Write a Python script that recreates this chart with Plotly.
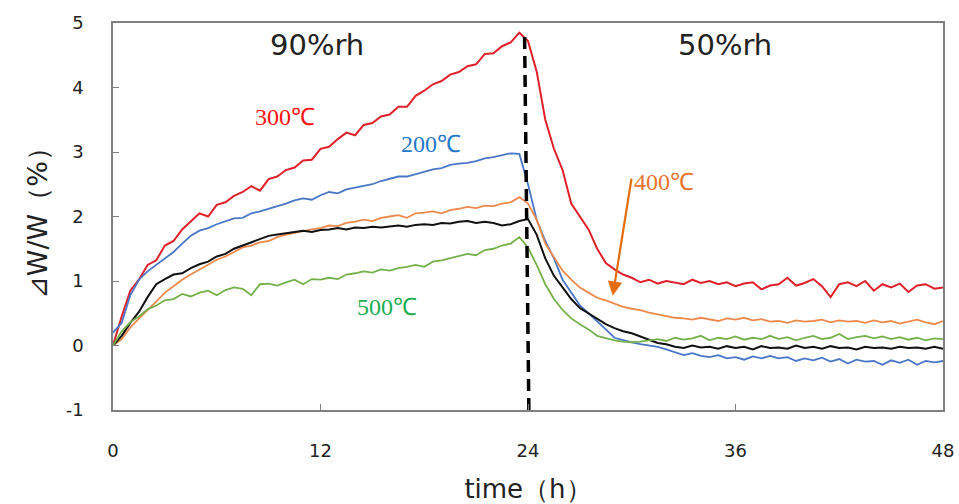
import plotly.graph_objects as go

# time axis (h), every 0.5 h from 0 to 48
time_h = [i * 0.5 for i in range(97)]

dw_300 = [0.0, 0.45, 0.85, 1.02, 1.25, 1.32, 1.55, 1.62, 1.8, 1.92,
          2.05, 2.0, 2.18, 2.22, 2.32, 2.38, 2.47, 2.4, 2.58, 2.62,
          2.72, 2.76, 2.87, 2.88, 3.05, 3.08, 3.2, 3.3, 3.26, 3.42,
          3.45, 3.55, 3.58, 3.7, 3.7, 3.87, 3.95, 4.05, 4.1, 4.2,
          4.24, 4.33, 4.36, 4.52, 4.53, 4.64, 4.7, 4.85, 4.72, 4.25,
          3.5, 3.05, 2.72, 2.2, 2.0, 1.8, 1.5, 1.28, 1.18, 1.1,
          1.05, 0.98, 1.02, 0.96, 1.0, 0.98, 0.95, 1.02, 0.97, 1.0,
          0.95, 0.98, 0.92, 0.96, 0.98, 0.87, 0.93, 0.95, 1.05, 0.93,
          0.97, 1.03, 0.92, 0.75, 0.95, 0.98, 0.92, 1.0, 0.85, 0.95,
          0.9, 0.96, 0.83, 0.93, 0.95, 0.88, 0.9]

dw_200 = [0.2, 0.35, 0.78, 1.02, 1.15, 1.25, 1.35, 1.45, 1.58, 1.7,
          1.78, 1.82, 1.88, 1.92, 1.97, 1.98, 2.05, 2.08, 2.12, 2.15,
          2.2, 2.25, 2.28, 2.26, 2.33, 2.38, 2.36, 2.42, 2.45, 2.48,
          2.5, 2.55, 2.58, 2.62, 2.62, 2.66, 2.7, 2.73, 2.75, 2.8,
          2.82, 2.83, 2.86, 2.9, 2.92, 2.95, 2.98, 2.97, 2.5, 1.95,
          1.62, 1.35, 1.02, 0.82, 0.62, 0.5, 0.38, 0.25, 0.12, 0.08,
          0.05, 0.02, 0.0, -0.02, -0.06, -0.1, -0.15, -0.12, -0.16, -0.18,
          -0.15, -0.2, -0.18, -0.22, -0.17, -0.2, -0.16, -0.2, -0.18, -0.24,
          -0.2, -0.23, -0.19, -0.25, -0.21, -0.28, -0.22, -0.25, -0.24, -0.3,
          -0.23, -0.27, -0.22, -0.3, -0.24, -0.26, -0.24]

dw_400 = [0.0, 0.1, 0.28, 0.42, 0.55, 0.68, 0.82, 0.92, 1.02, 1.1,
          1.18, 1.25, 1.33, 1.38, 1.45, 1.52, 1.55, 1.6, 1.62, 1.68,
          1.72, 1.75, 1.78, 1.8, 1.82, 1.86, 1.85, 1.9, 1.92, 1.95,
          1.93, 1.98, 2.0, 2.02, 1.98, 2.05, 2.06, 2.08, 2.05, 2.1,
          2.12, 2.15, 2.13, 2.17, 2.16, 2.2, 2.22, 2.3, 2.2, 1.95,
          1.58, 1.38, 1.16, 1.02, 0.9, 0.82, 0.74, 0.7, 0.65, 0.6,
          0.57, 0.55, 0.51, 0.48, 0.46, 0.43, 0.42, 0.4, 0.43, 0.41,
          0.38, 0.42, 0.4, 0.43, 0.39, 0.41, 0.37, 0.38, 0.35, 0.39,
          0.37, 0.38, 0.4, 0.36, 0.39, 0.37, 0.38, 0.35, 0.39, 0.36,
          0.38, 0.34, 0.37, 0.4, 0.36, 0.33, 0.38]

dw_black = [0.0, 0.15, 0.35, 0.52, 0.75, 0.95, 1.03, 1.1, 1.12, 1.2,
            1.26, 1.3, 1.38, 1.42, 1.5, 1.55, 1.6, 1.65, 1.7, 1.72,
            1.74, 1.75, 1.78, 1.76, 1.79, 1.8, 1.82, 1.8, 1.83, 1.82,
            1.84, 1.83, 1.85, 1.86, 1.84, 1.87, 1.88, 1.87, 1.9, 1.89,
            1.92, 1.93, 1.9, 1.92, 1.9, 1.86, 1.88, 1.93, 1.96, 1.72,
            1.35, 1.08, 0.9, 0.72, 0.58, 0.5, 0.41, 0.33, 0.27, 0.22,
            0.19, 0.14, 0.08, 0.04, 0.02, -0.02, -0.04, 0.0, -0.03, -0.02,
            -0.05, -0.01, -0.04, -0.02, -0.06, -0.01, -0.04, -0.03, -0.05, 0.0,
            -0.04, -0.02, -0.05, -0.01, -0.04, -0.03, -0.06, -0.02, -0.04, -0.03,
            -0.05, -0.02, -0.04, -0.03, -0.05, -0.02, -0.05]

dw_500 = [0.0, 0.22, 0.36, 0.45, 0.56, 0.62, 0.7, 0.72, 0.8, 0.76,
          0.82, 0.85, 0.78, 0.86, 0.9, 0.88, 0.78, 0.95, 0.96, 0.93,
          0.98, 1.02, 0.95, 1.03, 1.02, 1.05, 1.03, 1.1, 1.12, 1.15,
          1.13, 1.18, 1.16, 1.2, 1.22, 1.25, 1.22, 1.3, 1.32, 1.35,
          1.38, 1.42, 1.4, 1.48, 1.5, 1.55, 1.58, 1.68, 1.52, 1.25,
          0.95, 0.72, 0.55, 0.42, 0.33, 0.25, 0.15, 0.11, 0.08, 0.06,
          0.05, 0.06, 0.08, 0.1, 0.07, 0.12, 0.09, 0.11, 0.15, 0.08,
          0.12, 0.1, 0.14, 0.09, 0.12, 0.1, 0.15, 0.1, 0.13, 0.08,
          0.12, 0.15, 0.1, 0.12, 0.18, 0.1, 0.13, 0.15, 0.11, 0.14,
          0.1, 0.13, 0.09, 0.12, 0.08, 0.11, 0.1]

# humidity switch divider
divider_time = [24.05, 23.8]
divider_value = [-1, 4.85]

x_ticks = [0, 12, 24, 36, 48]
y_ticks = [-1, 0, 1, 2, 3, 4, 5]
y_tick_text = ["-1", "0", "1", "2", "3", "4", "5"]

series = [
    ("300℃", dw_300, "#e0202a", 2.0),
    ("200℃", dw_200, "#4a76c6", 1.8),
    ("400℃", dw_400, "#ec8a4e", 1.8),
    ("black", dw_black, "#111111", 2.0),
    ("500℃", dw_500, "#74b04c", 1.8),
]

fig = go.Figure()
for name, vals, color, w in series:
    fig.add_trace(go.Scatter(x=time_h, y=vals, mode="lines", name=name,
                             line=dict(color=color, width=w)))

fig.add_trace(go.Scatter(x=divider_time, y=divider_value, mode="lines",
                         line=dict(color="black", width=3.5, dash="12px,7px")))

serif = "Liberation Serif"
label_font = 24
annotations = [
    dict(x=9.95, y=3.55, text="300℃", font=dict(color="#ff1010", size=label_font, family=serif)),
    dict(x=18.4, y=3.12, text="200℃", font=dict(color="#1f78c8", size=label_font, family=serif)),
    dict(x=15.85, y=0.6, text="500℃", font=dict(color="#1aae50", size=label_font, family=serif)),
    dict(x=30.0, y=2.53, text="400℃", xanchor="left", font=dict(color="#e9732e", size=label_font, family=serif)),
    dict(x=11.8, y=4.66, text="90%rh", font=dict(color="#222", size=29, family="DejaVu Sans")),
    dict(x=35.4, y=4.66, text="50%rh", font=dict(color="#222", size=29, family="DejaVu Sans")),
]
for a in annotations:
    a.update(xref="x", yref="y", showarrow=False)
    fig.add_annotation(**a)

# orange arrow pointing at the 400℃ curve
fig.add_annotation(x=28.9, y=0.77, ax=30.0, ay=2.61, xref="x", yref="y",
                   axref="x", ayref="y", text="", showarrow=True,
                   arrowhead=2, arrowsize=1.3, arrowwidth=2.2, arrowcolor="#e46c0a")

fig.update_layout(
    width=959, height=504,
    margin=dict(l=113, r=16, t=23, b=94, autoexpand=False),
    paper_bgcolor="white", plot_bgcolor="white",
    showlegend=False,
    font=dict(family="DejaVu Sans", color="#222"),
)
fig.update_xaxes(range=[0, 48], tickvals=x_ticks, ticks="inside", ticklen=6,
                 tickcolor="#808080", showline=True, linecolor="#808080", linewidth=1.5,
                 mirror=True, showgrid=False, zeroline=False,
                 tickfont=dict(size=18, color="#222"), ticklabelstandoff=24,
                 title=dict(text="time（h）", font=dict(size=26, color="#222"), standoff=22))
fig.update_yaxes(range=[-1, 5], tickvals=y_ticks, ticktext=y_tick_text, ticks="inside", ticklen=6,
                 tickcolor="#808080", showline=True, linecolor="#808080", linewidth=1.5,
                 mirror=True, showgrid=False, zeroline=False,
                 tickfont=dict(size=18, color="#222"), ticklabelstandoff=24,
                 title=dict(text="⊿W/W（%）", font=dict(size=27, color="#222"), standoff=10))

fig.write_html("out.html", config={"displayModeBar": False},
               post_script="document.body.style.margin='0';document.body.style.overflow='hidden';")
